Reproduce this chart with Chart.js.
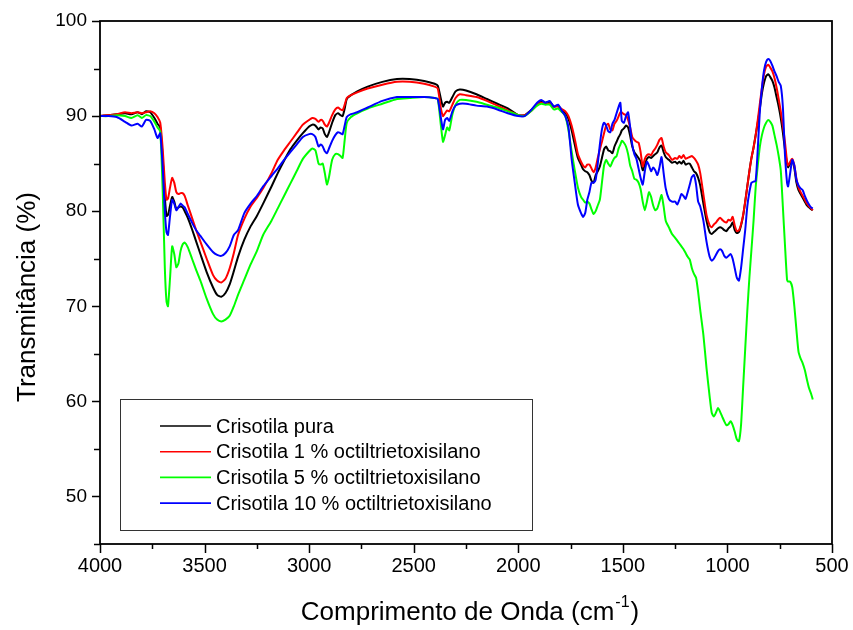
<!DOCTYPE html>
<html>
<head>
<meta charset="utf-8">
<title>Espectros FTIR - Crisotila</title>
<script src="https://cdn.jsdelivr.net/npm/chart.js@4.4.1/dist/chart.umd.min.js"></script>
<style>
    html, body { margin: 0; padding: 0; background: #fff; }
    #wrap { position: relative; width: 853px; height: 630px; }
</style>
</head>
<body>
<div id="wrap"><canvas id="ftirChart"></canvas></div>
<script>
// wavenumbers (cm-1), shared by every spectrum
const WAVENUMBERS = [
    4000, 3960, 3920, 3880, 3850, 3820, 3800, 3780, 3760, 3740, 3725, 3712, 3700,
    3690, 3682, 3675, 3665, 3655, 3645, 3635, 3625, 3615, 3605, 3595, 3580,
    3560, 3540, 3520, 3490, 3460, 3440, 3420, 3400, 3380, 3360, 3340, 3310,
    3280, 3250, 3220, 3180, 3150, 3120, 3090, 3060, 3030, 3000, 2985, 2970,
    2955, 2945, 2935, 2925, 2915, 2905, 2890, 2875, 2862, 2850, 2840, 2830,
    2820, 2800, 2770, 2720, 2650, 2580, 2520, 2450, 2400, 2385, 2370, 2360,
    2350, 2340, 2330, 2315, 2300, 2280, 2250, 2200, 2150, 2100, 2050, 2000,
    1970, 1940, 1910, 1890, 1870, 1850, 1830, 1810, 1790, 1775, 1760, 1745,
    1730, 1715, 1700, 1690, 1680, 1670, 1660, 1650, 1640, 1630, 1620, 1610,
    1600, 1590, 1580, 1570, 1560, 1550, 1540, 1530, 1520, 1512, 1505, 1495,
    1485, 1475, 1465, 1455, 1445, 1435, 1425, 1415, 1405, 1395, 1385, 1375,
    1365, 1355, 1345, 1335, 1325, 1315, 1305, 1295, 1280, 1265, 1250, 1240,
    1230, 1220, 1210, 1200, 1190, 1180, 1170, 1160, 1150, 1140, 1130, 1115,
    1100, 1085, 1075, 1065, 1055, 1045, 1035, 1025, 1015, 1005, 995, 985,
    975, 965, 955, 945, 935, 925, 915, 905, 895, 885, 875, 865,
    855, 845, 835, 825, 815, 805, 795, 785, 775, 765, 755, 745,
    735, 725, 715, 710, 700, 690, 680, 670, 660, 650, 640, 630,
    620, 610, 600, 592
];

// transmittance (%) for each sample
const pura = [
    90.0, 90.1, 90.2, 90.3, 90.2, 90.4, 90.2, 90.5, 90.4, 89.8, 89.2, 88.8, 85.5,
    81.5, 79.5, 79.6, 80.6, 81.5, 81.0, 80.2, 80.4, 80.5, 80.4, 80.0, 79.3,
    78.1, 76.8, 75.5, 73.6, 72.0, 71.2, 71.0, 71.4, 72.3, 73.7, 75.2, 77.0,
    78.4, 79.5, 80.8, 82.6, 84.0, 85.3, 86.5, 87.4, 88.2, 88.9, 89.1, 89.0,
    88.6, 88.8, 88.7, 88.1, 87.8, 88.3, 89.3, 90.1, 90.3, 90.1, 90.0, 90.8,
    91.8, 92.2, 92.6, 93.1, 93.6, 93.9, 93.9, 93.7, 93.4, 93.2, 91.8, 91.0,
    91.4, 91.5, 91.4, 92.0, 92.6, 92.8, 92.7, 92.3, 91.8, 91.3, 90.8, 90.1,
    90.1, 90.6, 91.2, 91.5, 91.4, 91.5, 91.0, 91.1, 90.6, 90.3, 89.7, 88.5,
    87.0, 85.6, 84.9, 84.4, 84.2, 84.1, 83.8, 83.2, 83.0, 83.8, 84.2, 84.7,
    85.6, 86.5, 86.8, 86.4, 86.3, 86.1, 86.8, 87.3, 87.8, 88.1, 88.5, 88.7,
    89.0, 88.8, 87.9, 86.8, 86.2, 85.9, 85.6, 85.2, 84.3, 84.9, 85.5, 85.7,
    85.6, 85.8, 86.0, 86.2, 86.7, 86.9, 86.2, 85.7, 85.4, 85.1, 85.2, 85.0,
    85.2, 85.0, 85.3, 84.9, 85.0, 85.0, 84.6, 84.2, 84.0, 83.5, 82.7, 80.8,
    79.0, 77.8, 77.6, 77.8, 78.0, 78.2, 78.3, 78.2, 78.0, 77.9, 78.2, 78.4,
    78.8, 78.0, 77.7, 77.8, 78.5, 79.5, 81.0, 82.6, 84.2, 85.6, 86.7, 88.0,
    89.3, 90.8, 92.4, 93.5, 94.2, 94.4, 94.1, 93.7, 93.0, 92.0, 91.0, 89.8,
    88.3, 86.5, 85.0, 84.6, 85.0, 85.3, 84.5, 83.0, 82.2, 81.8, 81.4, 81.0,
    80.6, 80.4, 80.2, 80.1
];

const silano1 = [
    90.0, 90.1, 90.2, 90.4, 90.3, 90.4, 90.3, 90.4, 90.5, 90.3, 89.9, 89.3, 86.5,
    83.0, 81.2, 81.3, 82.5, 83.5, 83.0, 82.0, 81.8, 81.9, 81.9, 81.6, 80.6,
    79.3, 78.0, 76.8, 75.0, 73.3, 72.7, 72.5, 72.9, 74.0, 75.6, 77.5, 79.2,
    80.5, 81.4, 82.4, 84.0, 85.4, 86.4, 87.3, 88.2, 89.1, 89.6, 89.8, 89.7,
    89.4, 89.6, 89.5, 89.1, 88.9, 89.3, 90.1, 90.7, 90.9, 90.7, 90.6, 91.2,
    91.9, 92.2, 92.5, 92.9, 93.3, 93.6, 93.6, 93.4, 93.1, 92.9, 90.8, 90.0,
    90.3, 90.6, 90.5, 91.2, 91.9, 92.3, 92.2, 92.0, 91.6, 91.1, 90.6, 90.1,
    90.1, 90.5, 91.2, 91.4, 91.3, 91.3, 91.0, 91.0, 90.7, 90.5, 90.0, 89.0,
    87.6, 86.0, 85.2, 84.8, 84.6, 84.9, 84.9, 84.5, 84.1, 84.6, 85.6, 86.5,
    87.3, 88.2, 89.0, 89.2, 88.6, 88.5, 89.2, 89.5, 90.0, 90.4, 90.4, 90.2,
    90.1, 89.6, 88.8, 87.8, 87.5, 87.3, 87.2, 86.2, 84.7, 85.5, 85.9, 86.0,
    85.9, 86.3, 86.6, 87.0, 87.5, 87.7, 86.8, 86.2, 85.9, 85.4, 85.6, 85.5,
    85.8, 85.6, 85.9, 85.5, 85.6, 85.7, 85.8, 85.6, 85.3, 84.9, 84.0, 81.8,
    79.6, 78.5, 78.3, 78.6, 78.8, 79.1, 79.3, 79.1, 78.9, 78.8, 79.1, 79.0,
    79.4, 78.5, 77.9, 78.0, 78.6, 79.6, 81.0, 82.6, 84.2, 85.6, 86.7, 88.0,
    89.6, 91.3, 93.0, 94.4, 95.2, 95.4, 95.1, 94.7, 94.0, 93.0, 91.8, 90.5,
    89.0, 87.3, 85.2, 84.8, 85.2, 85.5, 84.8, 83.4, 82.5, 82.0, 81.6, 81.2,
    80.8, 80.5, 80.3, 80.1
];

const silano5 = [
    90.0, 90.0, 90.1, 90.0, 89.8, 90.1, 89.8, 90.1, 90.0, 89.4, 88.8, 88.4, 82.0,
    74.0, 70.5, 70.0, 73.0, 76.3, 75.5, 74.1, 74.5, 75.8, 76.5, 76.7, 76.2,
    75.0, 73.8, 72.7, 70.8, 69.2, 68.6, 68.4, 68.6, 69.0, 70.0, 71.2, 72.8,
    74.4, 75.8, 77.5, 79.0, 80.3, 81.6, 82.9, 84.2, 85.5, 86.3, 86.6, 86.4,
    85.0, 84.9, 85.0, 84.0, 82.8, 83.6, 85.4, 86.0, 86.0, 85.8, 85.6, 87.5,
    89.3, 89.9, 90.3, 90.8, 91.3, 91.8, 91.9, 92.0, 91.9, 91.8, 89.0, 87.3,
    88.0, 88.8, 88.5, 90.2, 91.2, 91.7, 91.7, 91.5, 91.2, 90.9, 90.5, 90.1,
    90.0, 90.5, 91.1, 91.3, 91.2, 91.2, 90.7, 90.8, 90.4, 90.0, 88.5, 86.3,
    84.3, 82.5, 81.5, 81.2, 80.9, 81.0, 80.8, 80.2, 79.7, 80.0, 80.6, 81.2,
    83.0, 84.8, 85.4, 85.0, 84.7, 85.2, 85.6, 85.8, 86.6, 87.0, 87.4, 87.2,
    86.8, 86.0, 84.8, 84.2, 83.4, 83.3, 83.0, 82.3, 81.0, 80.1, 81.0, 82.0,
    81.5, 80.6, 80.1, 80.3, 81.0, 81.7, 80.5, 79.0, 78.3, 77.6, 77.2, 76.9,
    76.6, 76.3, 76.0, 75.6, 75.2, 74.9, 74.0, 73.4, 73.0, 71.5, 69.6, 67.0,
    63.5, 60.5, 58.8, 58.4, 58.8, 59.3, 58.9, 58.4, 57.9, 57.5, 57.6, 57.9,
    57.5, 56.8, 56.0, 55.8, 57.5, 61.5, 65.5, 69.5, 73.0, 76.0, 79.0, 82.5,
    84.8, 86.8, 88.0, 88.8, 89.3, 89.6, 89.4, 89.0, 88.0, 87.0, 85.8, 84.3,
    80.5, 76.5, 72.8, 72.6, 72.6, 72.0, 70.0, 67.5, 65.2, 64.5, 64.0, 63.3,
    62.3, 61.4, 60.8, 60.2
];

const silano10 = [
    90.0, 90.0, 89.9, 89.4, 89.0, 89.2, 88.9, 89.6, 89.5, 88.6, 87.7, 88.2, 84.5,
    80.0, 77.8, 77.5, 79.5, 81.2, 80.8, 80.1, 80.4, 80.8, 80.6, 80.4, 79.7,
    78.8, 78.0, 77.4, 76.5, 75.7, 75.4, 75.3, 75.6, 76.3, 77.5, 78.0, 79.8,
    80.8, 81.6, 82.6, 83.7, 84.5, 85.4, 86.2, 87.0, 87.8, 88.1, 88.1, 87.8,
    86.8, 87.0, 86.8, 86.3, 86.1, 86.6, 87.4, 88.0, 88.3, 88.2, 88.1, 89.0,
    89.9, 90.2, 90.4, 90.9, 91.6, 92.0, 92.0, 92.0, 91.9, 91.8, 89.8, 88.6,
    89.6, 89.8, 89.5, 90.5, 91.1, 91.3, 91.3, 91.1, 91.0, 90.7, 90.3, 90.0,
    90.0, 90.6, 91.4, 91.7, 91.4, 91.6, 91.0, 91.2, 90.5, 90.0, 88.8, 85.5,
    83.0, 80.7, 79.8, 79.4, 79.8, 81.2, 82.0, 83.0, 83.0, 83.3, 85.0, 87.0,
    88.6, 89.3, 89.0, 88.4, 88.3, 89.2, 89.6, 90.3, 91.0, 91.4, 89.5, 89.3,
    90.0, 90.4, 88.8, 87.0, 86.0, 85.5, 84.5, 83.5, 82.8, 84.2, 85.2, 84.8,
    84.2, 84.6, 84.3, 83.8, 84.6, 85.7, 84.0, 82.4, 81.3, 81.0, 81.0, 80.7,
    81.2, 81.8, 81.6, 81.3, 82.0, 82.8, 83.6, 83.8, 82.8, 81.0, 80.5, 79.0,
    76.8, 75.2, 74.8, 75.0, 75.4, 75.8, 76.0, 75.8, 75.3, 75.1, 75.3, 75.5,
    75.0, 74.0, 73.0, 72.7, 74.0, 76.0, 78.0, 80.5, 82.0, 83.0, 83.1, 83.2,
    86.5, 90.5, 93.0, 94.8, 95.7, 96.0, 95.8, 95.3, 94.7, 94.2, 93.6, 93.2,
    91.0, 86.0, 83.0, 82.6, 84.0, 85.4, 84.8, 83.3, 82.7, 82.4, 82.2, 81.6,
    81.1, 80.7, 80.4, 80.3
];

const SERIES_LABELS = [
    'Crisotila pura',
    'Crisotila 1 % octiltrietoxisilano',
    'Crisotila 5 % octiltrietoxisilano',
    'Crisotila 10 % octiltrietoxisilano'
];
const SERIES_COLORS = ['#000000', '#ff0000', '#00ff00', '#0000ff'];
const SERIES_VALUES = [pura, silano1, silano5, silano10];

const X_TICKS = [4000, 3500, 3000, 2500, 2000, 1500, 1000, 500];
const Y_TICKS = [50, 60, 70, 80, 90, 100];

const FONT = "'Liberation Sans', Arial, Helvetica, sans-serif";

// frame, outward tick marks (major + minor), inset legend and axis titles
const decorPlugin = {
    id: 'decor',
    afterDraw(chart) {
        const ctx = chart.ctx;
        const area = chart.chartArea;
        const xs = chart.scales.x;
        const ys = chart.scales.y;

        ctx.save();
        ctx.strokeStyle = '#000';
        ctx.lineWidth = 1.8;
        ctx.strokeRect(area.left, area.top, area.right - area.left, area.bottom - area.top);

        ctx.lineWidth = 1.5;
        ctx.beginPath();
        for (let v = 500; v <= 4000; v += 250) {
            const px = Math.round(xs.getPixelForValue(v)) + 0.5;
            const len = v % 500 === 0 ? 9 : 5;
            ctx.moveTo(px, area.bottom);
            ctx.lineTo(px, area.bottom + len);
        }
        for (let v = 45; v <= 100; v += 5) {
            const py = Math.round(ys.getPixelForValue(v)) + 0.5;
            const len = v % 10 === 0 ? 8 : 6;
            ctx.moveTo(area.left, py);
            ctx.lineTo(area.left - len, py);
        }
        ctx.stroke();

        // legend box inside the plot
        const box = { left: 120, top: 399, right: 532, bottom: 530 };
        ctx.fillStyle = '#fff';
        ctx.fillRect(box.left, box.top, box.right - box.left, box.bottom - box.top);
        ctx.lineWidth = 1;
        ctx.strokeStyle = '#333';
        ctx.strokeRect(box.left + 0.5, box.top + 0.5, box.right - box.left, box.bottom - box.top);

        ctx.font = '20px ' + FONT;
        ctx.textBaseline = 'middle';
        ctx.textAlign = 'left';
        chart.data.datasets.forEach((ds, i) => {
            const y = 426 + i * 25.7;
            ctx.strokeStyle = ds.borderColor;
            ctx.lineWidth = 1.6;
            ctx.beginPath();
            ctx.moveTo(160, y);
            ctx.lineTo(211, y);
            ctx.stroke();
            ctx.fillStyle = '#000';
            ctx.fillText(ds.label, 216, y + 1);
        });

        // y axis title
        ctx.save();
        ctx.translate(28, 297);
        ctx.rotate(-Math.PI / 2);
        ctx.font = '26px ' + FONT;
        ctx.textAlign = 'center';
        ctx.textBaseline = 'middle';
        ctx.fillStyle = '#000';
        ctx.fillText('Transmitância (%)', 0, 0);
        ctx.restore();

        // x axis title with superscript
        const main = 'Comprimento de Onda (cm';
        const sup = '-1';
        const tail = ')';
        ctx.textAlign = 'left';
        ctx.font = '26px ' + FONT;
        const wMain = ctx.measureText(main).width;
        const wTail = ctx.measureText(tail).width;
        ctx.font = '16px ' + FONT;
        const wSup = ctx.measureText(sup).width;
        const total = wMain + wSup + wTail + 2;
        let x = 470 - total / 2;
        const base = 620;
        ctx.fillStyle = '#000';
        ctx.textBaseline = 'alphabetic';
        ctx.font = '26px ' + FONT;
        ctx.fillText(main, x, base);
        x += wMain + 1;
        ctx.font = '16px ' + FONT;
        ctx.fillText(sup, x, base - 13);
        x += wSup + 1;
        ctx.font = '26px ' + FONT;
        ctx.fillText(tail, x, base);
        ctx.restore();
    }
};

function buildDatasets() {
    return SERIES_VALUES.map((values, i) => ({
        label: SERIES_LABELS[i],
        data: WAVENUMBERS.map((w, j) => ({ x: w, y: values[j] })),
        borderColor: SERIES_COLORS[i],
        backgroundColor: SERIES_COLORS[i],
        borderWidth: 2,
        pointRadius: 0,
        tension: 0.2,
        fill: false,
        // later samples are painted over the earlier ones
        order: SERIES_VALUES.length - i
    }));
}

document.addEventListener('DOMContentLoaded', function() {
    const ctx = document.getElementById('ftirChart').getContext('2d');
    new Chart(ctx, {
        type: 'line',
        data: { datasets: buildDatasets() },
        plugins: [decorPlugin],
        options: {
            responsive: true,
            maintainAspectRatio: false,
            animation: false,
            layout: { padding: { left: 0, top: 21, right: 21, bottom: 0 } },
            plugins: {
                legend: { display: false },
                tooltip: { enabled: false }
            },
            scales: {
                x: {
                    type: 'linear',
                    reverse: true,
                    min: 500,
                    max: 4000,
                    afterBuildTicks: scale => {
                        scale.ticks = X_TICKS.map(v => ({ value: v }));
                    },
                    afterFit: scale => {
                        scale.height = 86;
                        scale.paddingLeft = 0;
                        scale.paddingRight = 0;
                    },
                    grid: { display: true, drawOnChartArea: false, drawTicks: false },
                    border: { display: false },
                    ticks: {
                        color: '#000',
                        padding: 10,
                        maxRotation: 0,
                        autoSkip: false,
                        font: { family: FONT, size: 20 },
                        callback: value => String(value)
                    },
                    title: { display: false }
                },
                y: {
                    min: 45,
                    max: 100,
                    afterBuildTicks: scale => {
                        scale.ticks = Y_TICKS.map(v => ({ value: v }));
                    },
                    afterFit: scale => {
                        scale.width = 100;
                        scale.paddingTop = 0;
                        scale.paddingBottom = 0;
                    },
                    grid: { display: true, drawOnChartArea: false, drawTicks: false },
                    border: { display: false },
                    ticks: {
                        color: '#000',
                        padding: 13,
                        font: { family: FONT, size: 19 },
                        callback: value => String(value)
                    },
                    title: { display: false }
                }
            }
        }
    });
});
</script>
</body>
</html>
